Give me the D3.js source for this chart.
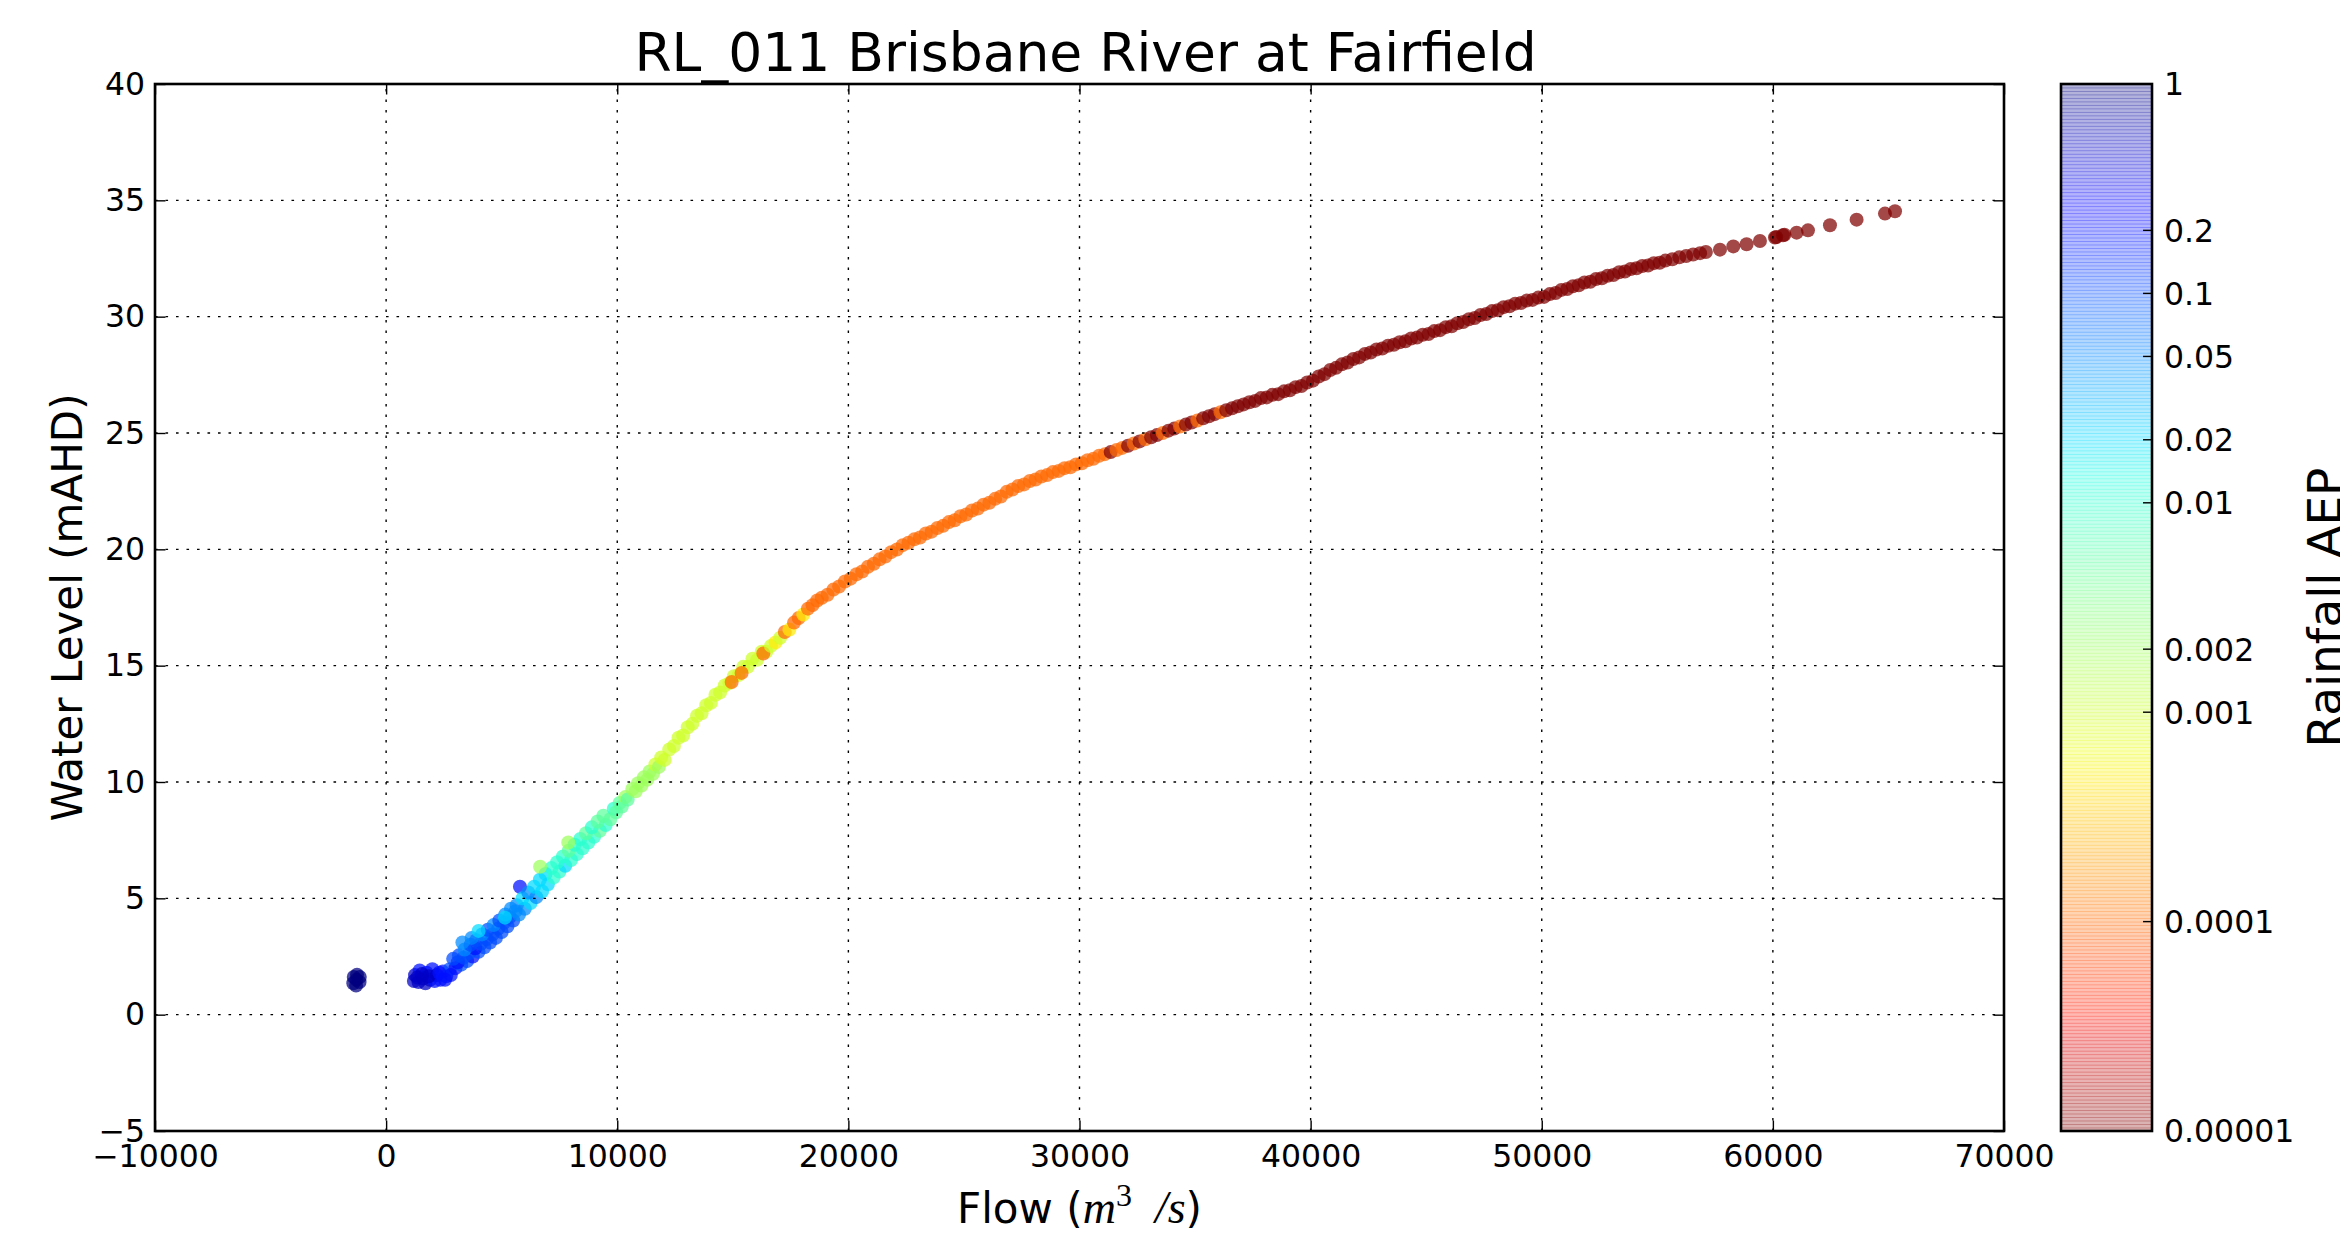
<!DOCTYPE html>
<html><head><meta charset="utf-8">
<script src="https://cdn.jsdelivr.net/npm/d3@7"></script>
<style>body{margin:0;background:#fff;} svg{display:block;}</style>
</head><body><svg id="chart" width="2340" height="1255"></svg>
<script>
// ---------------- data ----------------
const xTicks = [-10000,0,10000,20000,30000,40000,50000,60000,70000];
const yTicks = [-5,0,5,10,15,20,25,30,35,40];
const cbTicks = [1,0.2,0.1,0.05,0.02,0.01,0.002,0.001,0.0001,0.00001];
const cbTickLabels = ["1","0.2","0.1","0.05","0.02","0.01","0.002","0.001","0.0001","0.00001"];
const titleText = "RL_011 Brisbane River at Fairfield";

// [flow m3/s, water level mAHD, rainfall AEP]
const baseflowPts = [
 [-1420,1.35,1],[-1400,1.62,1],[-1300,1.25,1],[-1280,1.5,1],[-1260,1.72,1],[-1150,1.4,1],[-1140,1.62,1],
 [1200,1.45,0.5],[1250,1.7,0.5],[1400,1.4,0.5],[1450,1.9,0.2],[1600,1.55,0.5],[1700,1.35,0.5],[1750,1.8,0.2],
 [1900,1.5,0.5],[2000,1.95,0.2],[2100,1.45,0.2],[2200,1.7,0.5],[2350,1.5,0.2],[2450,1.85,0.2],[2600,1.65,0.2],
 [2750,1.95,0.1],[2800,1.7,0.2],[1350,1.6,0.5],[1550,1.75,0.5],[1850,1.65,0.5],[2300,1.8,0.2],[2550,1.5,0.2]
];
const risingPts = [
 [3000,2.0,0.2],[3250,2.15,0.1],[3500,2.3,0.1],[3750,2.5,0.2],[4000,2.7,0.1],[4250,2.9,0.1],[4500,3.1,0.1],
 [4750,3.3,0.1],[5000,3.55,0.1],[5250,3.8,0.1],[5500,4.05,0.1],
 [3100,2.25,0.2],[3350,2.45,0.1],[3600,2.65,0.1],[3850,2.85,0.2],[4100,3.05,0.1],[4350,3.25,0.1],[4600,3.45,0.1],
 [4850,3.7,0.1],[5100,3.95,0.1],[5350,4.2,0.1],[5600,4.45,0.05],
 [2900,2.4,0.1],[3150,2.55,0.1],[3400,2.8,0.05],[3650,3.0,0.1],[3900,3.2,0.1],[4150,3.45,0.05],[4400,3.65,0.1],
 [4650,3.85,0.05],[4900,4.05,0.1],[5150,4.3,0.05],[5400,4.55,0.05],
 [3300,3.1,0.05],[3700,3.3,0.05],[4000,3.6,0.02],[5140,4.17,0.02],[5790,5.5,0.2],
 [5750,4.3,0.05],[6000,4.55,0.05],[6250,4.8,0.02],[6500,5.05,0.05],[6750,5.3,0.02],[7000,5.6,0.02],
 [5650,4.7,0.05],[5900,5.0,0.02],[6150,5.25,0.05],[6400,5.5,0.02],[6650,5.8,0.02],[6900,6.05,0.02],
 [7250,5.9,0.01],[7500,6.15,0.01],[7750,6.4,0.02],[8000,6.65,0.01],[8250,6.9,0.01],[8500,7.15,0.01],
 [8750,7.4,0.01],[9000,7.65,0.01],[9250,7.9,0.005],[9500,8.15,0.01],
 [7150,6.3,0.01],[7400,6.55,0.01],[7650,6.8,0.01],[7900,7.05,0.005],[8150,7.3,0.01],[8400,7.55,0.01],
 [8650,7.8,0.005],[8900,8.05,0.01],[9150,8.3,0.005],[9400,8.55,0.005],
 [6660,6.36,0.002],[7880,7.4,0.002]
];
const transitionPts = [
 [9700,8.4,0.005],[9850,8.85,0.01],[9950,8.7,0.005],[10100,9.1,0.005],[10200,8.95,0.005],[10350,9.35,0.002],
 [10450,9.25,0.005],[10650,9.7,0.002],[10800,9.6,0.002],[10900,9.95,0.002],[11050,9.85,0.002],[11150,10.2,0.002],
 [11300,10.1,0.002],[11400,10.45,0.002],[11550,10.35,0.002],[11650,10.75,0.001],[11800,10.65,0.002],[11900,11.05,0.001],
 [12050,10.95,0.001],[12250,11.4,0.001],[12450,11.55,0.001],[12650,11.9,0.001],[12850,12.0,0.001],[13050,12.35,0.001],
 [13250,12.5,0.001],[13450,12.85,0.001],[13650,12.95,0.001],[13850,13.3,0.001],[14050,13.4,0.001],[14250,13.75,0.001],
 [14450,13.85,0.001],[14650,14.15,0.001],[14850,14.25,0.001],[15050,14.55,0.001],[15250,14.6,0.001],[15450,14.95,0.001],
 [15650,14.95,0.001],[15850,15.3,0.001],[16050,15.25,0.001],[16250,15.6,0.001],[16450,15.6,0.001],
 [14950,14.3,0.0001],[15380,14.69,0.0001],[16320,15.52,0.0001],
 [16650,15.85,0.001],[16850,16.0,0.0005],[17050,16.2,0.001],[17250,16.45,0.0001],[17450,16.55,0.0005],
 [17650,16.85,0.0001],[17850,17.05,0.0001],[18050,17.2,0.0005],[18250,17.45,0.0001],[18450,17.6,0.0001],[18650,17.8,0.0001]
];
const orangePts = [
 [18850,17.92,1e-4],[19100,18.05,1e-4],[19350,18.27,1e-4],[19600,18.4,1e-4],[19850,18.62,1e-4],[20100,18.74,1e-4],
 [20350,18.93,1e-4],[20600,19.05,1e-4],[20850,19.25,1e-4],[21100,19.38,1e-4],[21350,19.57,1e-4],[21600,19.69,1e-4],
 [21850,19.88,1e-4],[22100,19.99,1e-4],[22350,20.18,1e-4],[22600,20.28,1e-4],[22850,20.43,1e-4],[23100,20.51,1e-4],
 [23350,20.68,1e-4],[23600,20.76,1e-4],[23850,20.92,1e-4],[24100,21.01,1e-4],[24350,21.17,1e-4],[24600,21.25,1e-4],
 [24850,21.42,1e-4],[25100,21.5,1e-4],[25350,21.67,1e-4],[25600,21.75,1e-4],[25850,21.92,1e-4],[26100,22.0,1e-4],
 [26350,22.17,1e-4],[26600,22.27,1e-4],[26850,22.47,1e-4],[27100,22.57,1e-4],[27350,22.72,1e-4],[27600,22.79,1e-4],
 [27850,22.94,1e-4],[28100,23.0,1e-4],[28350,23.13,1e-4],[28600,23.19,1e-4],[28850,23.32,1e-4],[29100,23.37,1e-4],
 [29350,23.49,1e-4],[29600,23.53,1e-4],[29850,23.65,1e-4],[30100,23.7,1e-4],[30350,23.83,1e-4],[30600,23.89,1e-4],
 [30850,24.02,1e-4]
];
const mixPts = [
 [31100,24.09,1e-4],[31350,24.18,1e-5],[31600,24.27,1e-4],[31850,24.36,1e-4],[32100,24.45,1e-5],[32350,24.55,1e-4],
 [32600,24.64,1e-5],[32850,24.73,1e-4],[33100,24.82,1e-5],[33350,24.91,1e-5],[33600,25.0,1e-4],[33850,25.1,1e-5],
 [34100,25.19,1e-5],[34350,25.28,1e-4],[34600,25.36,1e-5],[34850,25.45,1e-5],[35100,25.54,1e-4],[35350,25.63,1e-5],
 [35600,25.72,1e-5],[35850,25.81,1e-5],[36100,25.89,1e-4],[36350,25.98,1e-5],[36600,26.06,1e-5],[36850,26.15,1e-5],
 [37100,26.23,1e-5]
];
const redPts = [
 [37350,26.32,1e-5],[37600,26.38,1e-5],[37850,26.5,1e-5],[38100,26.53,1e-5],[38350,26.64,1e-5],[38600,26.67,1e-5],
 [38850,26.79,1e-5],[39100,26.84,1e-5],[39350,26.97,1e-5],[39600,27.02,1e-5],[39850,27.17,1e-5],[40100,27.25,1e-5],
 [40350,27.43,1e-5],[40600,27.53,1e-5],[40850,27.71,1e-5],[41100,27.8,1e-5],[41350,27.95,1e-5],[41600,28.03,1e-5],
 [41850,28.18,1e-5],[42100,28.25,1e-5],[42350,28.4,1e-5],[42600,28.46,1e-5],[42850,28.59,1e-5],[43100,28.63,1e-5],
 [43350,28.75,1e-5],[43600,28.79,1e-5],[43850,28.9,1e-5],[44100,28.94,1e-5],[44350,29.06,1e-5],[44600,29.1,1e-5],
 [44850,29.22,1e-5],[45100,29.25,1e-5],[45350,29.38,1e-5],[45600,29.42,1e-5],[45850,29.55,1e-5],[46100,29.59,1e-5],
 [46350,29.72,1e-5],[46600,29.77,1e-5],[46850,29.89,1e-5],[47100,29.94,1e-5],[47350,30.07,1e-5],[47600,30.11,1e-5],
 [47850,30.24,1e-5],[48100,30.28,1e-5],[48350,30.41,1e-5],[48600,30.45,1e-5],[48850,30.56,1e-5],[49100,30.59,1e-5],
 [49350,30.69,1e-5],[49600,30.72,1e-5],[49850,30.82,1e-5],[50100,30.85,1e-5],[50350,30.97,1e-5],[50600,31.02,1e-5],
 [50850,31.15,1e-5],[51100,31.19,1e-5],[51350,31.31,1e-5],[51600,31.35,1e-5],[51850,31.47,1e-5],[52100,31.5,1e-5],
 [52350,31.62,1e-5],[52600,31.65,1e-5],[52850,31.76,1e-5],[53100,31.79,1e-5],[53350,31.91,1e-5],[53600,31.94,1e-5],
 [53850,32.05,1e-5],[54100,32.08,1e-5],[54350,32.18,1e-5],[54600,32.2,1e-5],[54850,32.3,1e-5],[55100,32.32,1e-5],
 [55350,32.41,1e-5]
];
const tailPts = [
 [55650,32.47,1e-5],[55950,32.55,1e-5],[56250,32.61,1e-5],[56550,32.67,1e-5],[56850,32.73,1e-5],[57100,32.78,1e-5],
 [57711,32.88,1e-5],[58288,33.02,1e-5],[58864,33.11,1e-5],[59441,33.25,1e-5],
 [60090,33.4,1e-5],[60150,33.42,1e-5],[60437,33.5,1e-5],[60500,33.52,1e-5],[61028,33.61,1e-5],[61519,33.71,1e-5],
 [62470,33.93,1e-5],[63623,34.17,1e-5],[64851,34.43,1e-5],[65284,34.53,1e-5]
];

// ---------------- layout ----------------
const W = 2340, H = 1255;
const plot = {left:155, right:2004, top:84, bottom:1131};
const cb = {left:2061, right:2152, top:84, bottom:1131};
const tickFont = 31.5, labelFont = 42, titleFont = 53.5, cbLabelFont = 47;
const fmt = d => (d < 0 ? "\u2212" : "") + Math.abs(d);

const svg = d3.select("#chart").attr("font-family","DejaVu Sans");
svg.append("rect").attr("width",W).attr("height",H).attr("fill","#fff");

const x = d3.scaleLinear().domain([-10000,70000]).range([plot.left, plot.right]);
const y = d3.scaleLinear().domain([-5,40]).range([plot.bottom, plot.top]);

// jet colormap (reversed, log AEP)
const jetR = d3.scaleLinear().domain([0,0.35,0.66,0.89,1]).range([0,0,1,1,0.5]).clamp(true);
const jetG = d3.scaleLinear().domain([0,0.125,0.375,0.64,0.91,1]).range([0,0,1,1,0,0]).clamp(true);
const jetB = d3.scaleLinear().domain([0,0.11,0.34,0.65,1]).range([0.5,1,1,0,0]).clamp(true);
const aepPos = d3.scaleLog().domain([1e-5,1]).range([1,0]).clamp(true);
const jet = j => d3.rgb(jetR(j)*255, jetG(j)*255, jetB(j)*255).formatHex();
const color = a => jet(aepPos(a));

// ---------------- points ----------------
const allPts = [].concat(baseflowPts, risingPts, transitionPts, orangePts, mixPts, redPts, tailPts);
const clipId = "plotclip";
svg.append("clipPath").attr("id",clipId).append("rect")
  .attr("x",plot.left).attr("y",plot.top).attr("width",plot.right-plot.left).attr("height",plot.bottom-plot.top);
svg.append("g").attr("clip-path",`url(#${clipId})`)
  .selectAll("circle").data(allPts).join("circle")
  .attr("cx", d => x(d[0])).attr("cy", d => y(d[1])).attr("r", 7)
  .attr("fill", d => color(d[2])).attr("fill-opacity", 0.72);

// ---------------- grid ----------------
const grid = svg.append("g").attr("stroke","#000").attr("stroke-width",1.4).attr("stroke-dasharray","2.6 7.9");
grid.selectAll(".gx").data(xTicks.slice(1,-1)).join("line")
  .attr("x1", d => x(d)).attr("x2", d => x(d)).attr("y1", plot.bottom).attr("y2", plot.top);
grid.selectAll(".gy").data(yTicks.slice(1,-1)).join("line")
  .attr("y1", d => y(d)).attr("y2", d => y(d)).attr("x1", plot.left).attr("x2", plot.right);

// ---------------- axes ----------------
function styleAxis(g){
  g.select(".domain").remove();
  g.attr("font-family","DejaVu Sans").attr("font-size",tickFont);
  g.selectAll("line").attr("stroke","#000").attr("stroke-width",1.4);
  g.selectAll("text").attr("fill","#000");
}
svg.append("g").attr("transform",`translate(0,${plot.bottom})`)
  .call(d3.axisBottom(x).tickValues(xTicks).tickFormat(fmt).tickSizeInner(-10.5).tickSizeOuter(0).tickPadding(14))
  .call(styleAxis);
svg.append("g").attr("transform",`translate(0,${plot.top})`)
  .call(d3.axisTop(x).tickValues(xTicks).tickFormat("").tickSizeInner(-10.5).tickSizeOuter(0))
  .call(styleAxis);
svg.append("g").attr("transform",`translate(${plot.left},0)`)
  .call(d3.axisLeft(y).tickValues(yTicks).tickFormat(fmt).tickSizeInner(-10.5).tickSizeOuter(0).tickPadding(10))
  .call(styleAxis);
svg.append("g").attr("transform",`translate(${plot.right},0)`)
  .call(d3.axisRight(y).tickValues(yTicks).tickFormat("").tickSizeInner(-10.5).tickSizeOuter(0))
  .call(styleAxis);

svg.append("rect").attr("x",plot.left).attr("y",plot.top)
  .attr("width",plot.right-plot.left).attr("height",plot.bottom-plot.top)
  .attr("fill","none").attr("stroke","#000").attr("stroke-width",2.6);

// ---------------- titles ----------------
const cx = (plot.left+plot.right)/2, cy = (plot.top+plot.bottom)/2;
svg.append("text").attr("x",cx+6).attr("y",71).attr("text-anchor","middle")
  .attr("font-size",titleFont).text(titleText);

const xl = svg.append("text").attr("x",cx).attr("y",1223).attr("text-anchor","middle").attr("font-size",labelFont);
xl.append("tspan").text("Flow (");
xl.append("tspan").attr("font-family","Liberation Serif").attr("font-style","italic").attr("font-size",46).text("m");
xl.append("tspan").attr("font-family","Liberation Serif").attr("font-size",32).attr("dy",-17).text("3");
xl.append("tspan").attr("font-family","Liberation Serif").attr("font-style","italic").attr("font-size",46).attr("dy",17).text("\u2002/s");
xl.append("tspan").text(")");

svg.append("text").attr("transform",`translate(82,${cy}) rotate(-90)`).attr("text-anchor","middle")
  .attr("font-size",labelFont).text("Water Level (mAHD)");

// ---------------- colorbar ----------------
const cbY = d3.scaleLog().domain([1e-5,1]).range([cb.bottom, cb.top]);
const nBands = 300;
const bandH = (cb.bottom-cb.top)/nBands;
const bands = d3.range(nBands);
svg.append("g").selectAll("rect").data(bands).join("rect")
  .attr("x",cb.left).attr("width",cb.right-cb.left)
  .attr("y", i => cb.top + i*bandH).attr("height", bandH + 0.9)
  .attr("fill", i => jet((i+0.5)/nBands)).attr("fill-opacity",0.3);
svg.append("rect").attr("x",cb.left).attr("y",cb.top).attr("width",cb.right-cb.left).attr("height",cb.bottom-cb.top)
  .attr("fill","none").attr("stroke","#000").attr("stroke-width",2.6);
const cbt = svg.append("g");
cbt.selectAll("line").data(cbTicks.slice(1,-1)).join("line")
  .attr("x1",cb.right-9).attr("x2",cb.right).attr("y1",d=>cbY(d)).attr("y2",d=>cbY(d))
  .attr("stroke","#000").attr("stroke-width",1.4);
cbt.selectAll("text").data(cbTicks).join("text")
  .attr("x",cb.right+12).attr("y",d=>cbY(d)).attr("dy","0.36em")
  .attr("font-size",tickFont).text((d,i)=>cbTickLabels[i]);
svg.append("text").attr("transform",`translate(2341,${cy}) rotate(-90)`).attr("text-anchor","middle")
  .attr("font-size",cbLabelFont).text("Rainfall AEP");
</script></body></html>
